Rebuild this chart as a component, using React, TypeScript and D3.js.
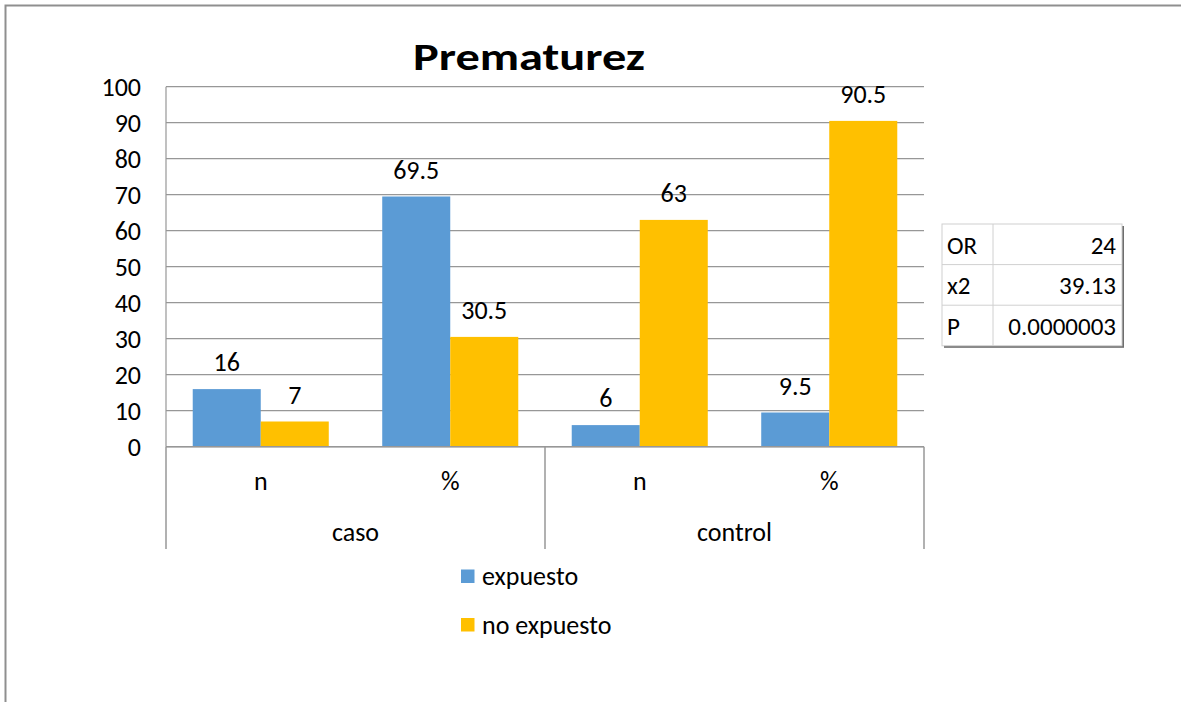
import React from "react";
import * as d3 from "d3";

const groups = ["caso", "caso", "control", "control"];
const subCategories = ["n", "%", "n", "%"];
const seriesNames = ["expuesto", "no expuesto"];
const expuesto = [16, 69.5, 6, 9.5];
const noExpuesto = [7, 30.5, 63, 90.5];
const yTicks = [0, 10, 20, 30, 40, 50, 60, 70, 80, 90, 100];
const tableLabels = ["OR", "x2", "P"];
const tableValues = ["24", "39.13", "0.0000003"];
const title = "Prematurez";

const FONT = "Carlito, Calibri, Lato, 'Open Sans', sans-serif";
const COLORS = ["#5B9BD5", "#FFC000"];
const GRID = "#979797";
const FS = 26;

export default function App() {
  const W = 1181;
  const H = 702;
  const plot = { left: 166, right: 924, top: 86.7, bottom: 446.7 };
  const catBottom = 549;

  const idx = d3.range(subCategories.length).map(String);
  const x0 = d3.scaleBand().domain(idx).range([plot.left, plot.right]).padding(0);
  const x1 = d3
    .scaleBand()
    .domain(seriesNames)
    .range([0, x0.bandwidth()])
    .paddingInner(0)
    .paddingOuter(0.393);
  const y = d3.scaleLinear().domain([0, 100]).range([plot.bottom, plot.top]);

  const series = [expuesto, noExpuesto];

  const groupNames: string[] = [];
  const groupRanges: [number, number][] = [];
  groups.forEach((g, i) => {
    const xs = x0(String(i))!;
    const xe = xs + x0.bandwidth();
    if (groupNames.length && groupNames[groupNames.length - 1] === g) {
      groupRanges[groupRanges.length - 1][1] = xe;
    } else {
      groupNames.push(g);
      groupRanges.push([xs, xe]);
    }
  });
  const dividers = [plot.left, ...groupRanges.map((r) => r[1])];

  const table = { left: 942, right: 1122, top: 224, rowH: 40.6, split: 993 };

  return (
    <svg
      width={W}
      height={H}
      style={{ position: "absolute", left: 0, top: 0, background: "#fff" }}
      fontFamily={FONT}
    >
      <path d={`M5.5,${H + 5} L5.5,5.5 L${W + 5},5.5`} fill="none" stroke="#8f8f8f" strokeWidth={2} />

      <text
        x={529}
        y={70}
        textAnchor="middle"
        fontSize={38}
        fontWeight="bold"
        fill="#000"
        textLength={232}
        lengthAdjust="spacingAndGlyphs"
      >
        {title}
      </text>

      {yTicks.map((t) => (
        <line
          key={"g" + t}
          x1={plot.left}
          x2={plot.right}
          y1={y(t)}
          y2={y(t)}
          stroke={GRID}
          strokeWidth={1.2}
        />
      ))}

      {yTicks.map((t) => (
        <text
          key={"t" + t}
          x={141}
          y={y(t)}
          dy="0.36em"
          textAnchor="end"
          fontSize={FS}
          fill="#000"
        >
          {t}
        </text>
      ))}

      {series.map((vals, si) =>
        vals.map((v, i) => (
          <rect
            key={`b${si}-${i}`}
            x={x0(String(i))! + x1(seriesNames[si])!}
            y={y(v)}
            width={x1.bandwidth()}
            height={y(0) - y(v)}
            fill={COLORS[si]}
          />
        ))
      )}

      {series.map((vals, si) =>
        vals.map((v, i) => (
          <text
            key={`l${si}-${i}`}
            x={x0(String(i))! + x1(seriesNames[si])! + x1.bandwidth() / 2}
            y={y(v) - 18}
            textAnchor="middle"
            fontSize={FS}
            fill="#000"
          >
            {v}
          </text>
        ))
      )}

      <line x1={plot.left} x2={plot.left} y1={plot.top} y2={plot.bottom} stroke={GRID} strokeWidth={1.2} />
      <line x1={plot.left} x2={plot.right} y1={plot.bottom} y2={plot.bottom} stroke={GRID} strokeWidth={1.5} />
      {dividers.map((dx, i) => (
        <line
          key={"d" + i}
          x1={dx}
          x2={dx}
          y1={plot.bottom}
          y2={catBottom}
          stroke={GRID}
          strokeWidth={1.5}
        />
      ))}

      {subCategories.map((c, i) => (
        <text
          key={"c" + i}
          x={x0(String(i))! + x0.bandwidth() / 2}
          y={490}
          textAnchor="middle"
          fontSize={FS}
          fill="#000"
        >
          {c}
        </text>
      ))}
      {groupNames.map((g, i) => (
        <text
          key={"gn" + i}
          x={(groupRanges[i][0] + groupRanges[i][1]) / 2}
          y={541}
          textAnchor="middle"
          fontSize={FS}
          fill="#000"
        >
          {g}
        </text>
      ))}

      {seriesNames.map((s, i) => (
        <g key={"lg" + i} transform={`translate(461,${569.5 + i * 48.5})`}>
          <rect x={0} y={0} width={13.5} height={13.5} fill={COLORS[i]} />
          <text x={21} y={15.5} fontSize={FS} fill="#000">
            {s}
          </text>
        </g>
      ))}

      <g>
        <rect
          x={table.left + 2}
          y={table.top + 2}
          width={table.right - table.left}
          height={table.rowH * 3}
          fill="#6e6e6e"
        />
        <rect
          x={table.left}
          y={table.top}
          width={table.right - table.left}
          height={table.rowH * 3}
          fill="#fff"
          stroke="#d0d0d0"
          strokeWidth={1}
        />
        {[1, 2].map((r) => (
          <line
            key={"tr" + r}
            x1={table.left}
            x2={table.right}
            y1={table.top + r * table.rowH}
            y2={table.top + r * table.rowH}
            stroke="#d0d0d0"
            strokeWidth={1}
          />
        ))}
        <line
          x1={table.split}
          x2={table.split}
          y1={table.top}
          y2={table.top + table.rowH * 3}
          stroke="#d0d0d0"
          strokeWidth={1}
        />
        {tableLabels.map((l, i) => (
          <text
            key={"tl" + i}
            x={table.left + 5}
            y={table.top + i * table.rowH + 29.5}
            fontSize={25}
            fill="#000"
          >
            {l}
          </text>
        ))}
        {tableValues.map((v, i) => (
          <text
            key={"tv" + i}
            x={table.right - 6}
            y={table.top + i * table.rowH + 29.5}
            textAnchor="end"
            fontSize={25}
            fill="#000"
          >
            {v}
          </text>
        ))}
      </g>
    </svg>
  );
}
